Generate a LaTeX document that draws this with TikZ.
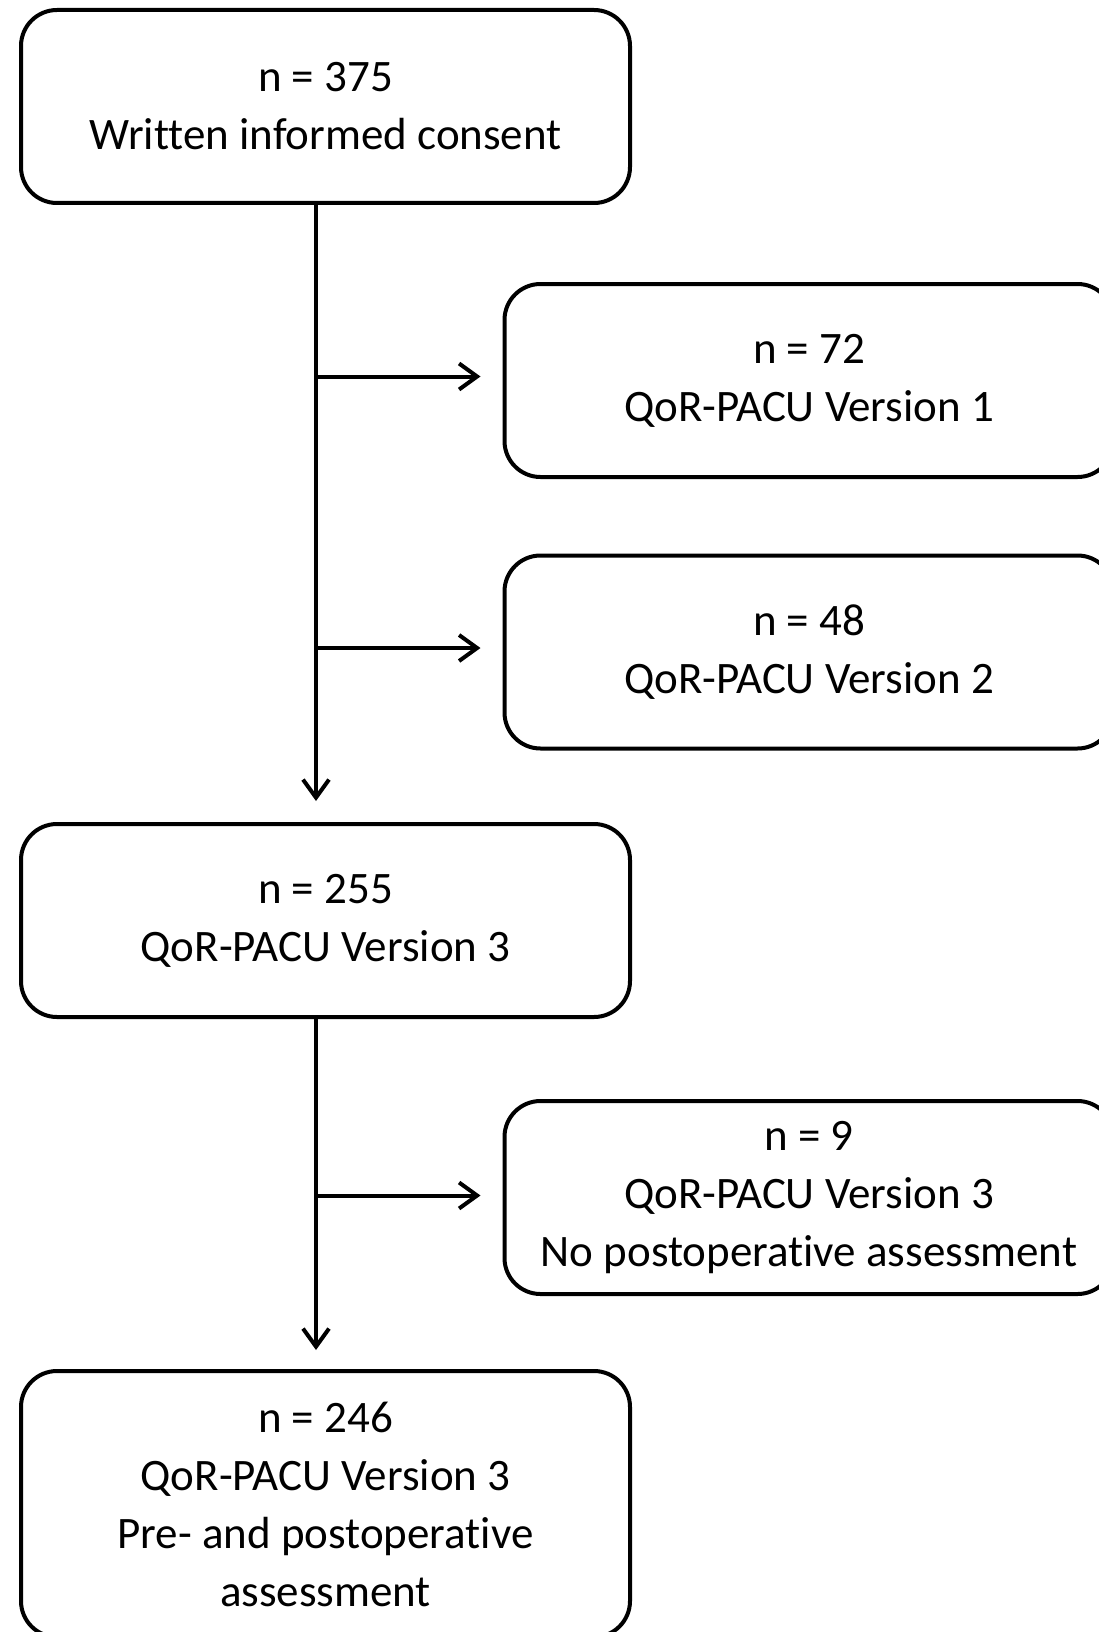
\documentclass[tikz,border=0pt]{standalone}
\usepackage{fontspec}
\setmainfont[Ligatures={NoCommon,NoRequired,NoContextual},Contextuals=NoAlternate]{Carlito}
\usetikzlibrary{arrows.meta}
\tikzset{
  stage/.style={draw, line width=4pt, rounded corners=36pt,
    minimum width=609pt, minimum height=193pt, inner sep=0pt,
    align=center, font=\fontsize{45}{58}\selectfont},
  arr/.style={line width=4pt, -{Straight Barb[length=18pt,width=26pt,line width=4pt]}}
}
\begin{document}
\begin{tikzpicture}[x=1pt,y=-1pt]
  \useasboundingbox (0,0) rectangle (1099,1632);
  % main column
  \node[stage] (b1) at (325.5,106.5) {n = 375\\Written informed consent};
  \node[stage] (b4) at (325.5,920.5) {n = 255\\QoR-PACU Version 3};
  \node[stage, minimum height=266pt] (b6) at (325.5,1504) {n = 246\\QoR-PACU Version 3\\Pre- and postoperative\\assessment};
  % side boxes
  \node[stage] (b2) at (809,380.5) {n = 72\\QoR-PACU Version 1};
  \node[stage] (b3) at (809,652) {n = 48\\QoR-PACU Version 2};
  \node[stage] (b5) at (809,1197.5) {n = 9\\QoR-PACU Version 3\\No postoperative assessment};
  % trunk positions
  \coordinate (t1) at (316,205);
  \coordinate (t2) at (316,1019);
  % vertical flow
  \draw[arr] (t1) -- ([yshift=21pt]t1 |- b4.north);
  \draw[arr] (t2) -- ([yshift=19pt]t2 |- b6.north);
  % exclusions
  \draw[arr] ([yshift=4pt]t1 |- b2.west) -- ([xshift=-22pt,yshift=4pt]b2.west);
  \draw[arr] ([yshift=4pt]t1 |- b3.west) -- ([xshift=-22pt,yshift=4pt]b3.west);
  \draw[arr] ([yshift=2pt]t2 |- b5.west) -- ([xshift=-22pt,yshift=2pt]b5.west);
\end{tikzpicture}
\end{document}
